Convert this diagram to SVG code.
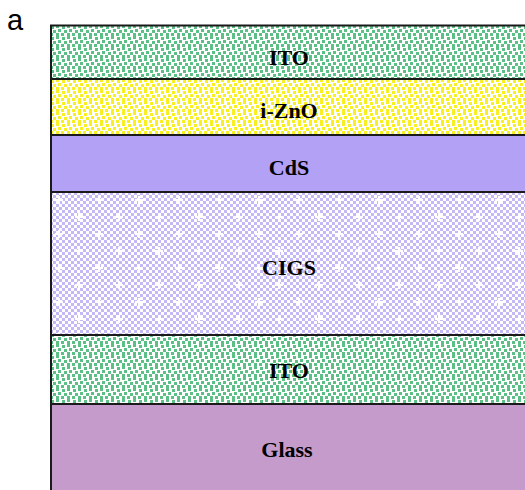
<svg xmlns="http://www.w3.org/2000/svg" width="525" height="490" viewBox="0 0 525 490">
<style>
.lbl{font-family:"Liberation Serif","Times New Roman",serif;font-weight:bold;font-size:22px;text-anchor:middle;fill:#000}
.edge{stroke:#1a1a1a;stroke-width:2;fill:none}
</style>
<defs>
<pattern id="ito" width="11" height="11" patternUnits="userSpaceOnUse" x="50" y="25">
<rect width="11" height="11" fill="#fff"/>
<g fill="#5cbf86">
<rect x="1" y="1" width="3" height="3"/><rect x="6" y="0" width="3" height="3"/>
<rect x="8" y="4" width="3" height="3"/><rect x="3" y="5" width="3" height="3"/>
<rect x="0" y="8" width="3" height="3"/><rect x="6" y="8" width="3" height="3"/>
</g>
</pattern>
<pattern id="zno" width="11" height="11" patternUnits="userSpaceOnUse" x="50" y="79">
<rect width="11" height="11" fill="#fff"/>
<g fill="#f8f020">
<rect x="1" y="1" width="3" height="3"/><rect x="6" y="0" width="3" height="3"/>
<rect x="8" y="4" width="3" height="3"/><rect x="3" y="5" width="3" height="3"/>
<rect x="0" y="8" width="3" height="3"/><rect x="6" y="8" width="3" height="3"/>
</g>
</pattern>
<pattern id="cigs" width="6" height="6" patternUnits="userSpaceOnUse" x="50" y="192">
<rect width="6" height="6" fill="#fff"/>
<rect width="3" height="3" fill="#c4b8f6"/><rect x="3" y="3" width="3" height="3" fill="#c4b8f6"/>
</pattern>
<pattern id="plus" width="40" height="34" patternUnits="userSpaceOnUse" x="55" y="196">
<g fill="#fff">
<rect x="3" y="0" width="2" height="8"/><rect x="0" y="3" width="8" height="2"/>
<rect x="23" y="17" width="2" height="8"/><rect x="20" y="20" width="8" height="2"/>
</g>
</pattern>
</defs>
<text x="7" y="30" font-family="Liberation Sans,Arial,sans-serif" font-size="29" fill="#000">a</text>
<g id="layer-ito-top">
<rect x="50" y="25" width="475" height="54" fill="url(#ito)"/>
<text class="lbl" x="289" y="65">ITO</text>
</g>
<g id="layer-izno">
<rect x="50" y="79" width="475" height="56" fill="url(#zno)"/>
<text class="lbl" x="289" y="118">i-ZnO</text>
</g>
<g id="layer-cds">
<rect x="50" y="135" width="475" height="57" fill="#b3a1f6"/>
<text class="lbl" x="289" y="175">CdS</text>
</g>
<g id="layer-cigs">
<rect x="50" y="192" width="475" height="143" fill="url(#cigs)"/>
<rect x="50" y="192" width="475" height="143" fill="url(#plus)"/>
<text class="lbl" x="289" y="275">CIGS</text>
</g>
<g id="layer-ito-bottom">
<rect x="50" y="335" width="475" height="69" fill="url(#ito)"/>
<text class="lbl" x="289" y="378">ITO</text>
</g>
<g id="layer-glass">
<rect x="50" y="404" width="475" height="86" fill="#c59bcb"/>
<text class="lbl" x="287" y="457">Glass</text>
</g>
<g id="connectors">
<path class="edge" d="M51 490V25.5H525"/>
<path class="edge" d="M51 79H525M51 135H525M51 192H525M51 335H525M51 404H525"/>
</g>
</svg>
